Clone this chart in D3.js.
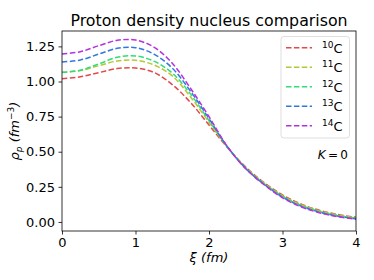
<!DOCTYPE html>
<html>
<head>
<meta charset="utf-8">
<script src="https://cdn.jsdelivr.net/npm/d3@7"></script>
<style>
  body { margin: 0; background: #fff; }
  svg { font-family: "DejaVu Sans", sans-serif; }
</style>
</head>
<body>
<div id="grafico"></div>
<script>
// radial coordinate (fm)
const xi = [0, 0.25, 0.5, 0.75, 1.0, 1.25, 1.5, 1.75, 2.0, 2.25, 2.5, 2.75, 3.0, 3.25, 3.5, 3.75, 4.0];

// proton densities
const rhoC10 = [1.020, 1.033, 1.063, 1.092, 1.096, 1.065, 0.978, 0.850, 0.690, 0.530, 0.390, 0.280, 0.192, 0.128, 0.083, 0.053, 0.033];
const rhoC11 = [1.065, 1.078, 1.112, 1.146, 1.151, 1.118, 1.040, 0.890, 0.710, 0.532, 0.386, 0.276, 0.187, 0.123, 0.079, 0.049, 0.029];
const rhoC12 = [1.065, 1.080, 1.125, 1.172, 1.182, 1.145, 1.060, 0.910, 0.722, 0.534, 0.383, 0.272, 0.182, 0.118, 0.075, 0.045, 0.026];
const rhoC13 = [1.139, 1.153, 1.195, 1.236, 1.241, 1.195, 1.095, 0.930, 0.735, 0.535, 0.380, 0.268, 0.177, 0.113, 0.070, 0.041, 0.022];
const rhoC14 = [1.196, 1.212, 1.255, 1.293, 1.295, 1.245, 1.130, 0.950, 0.750, 0.537, 0.378, 0.265, 0.172, 0.108, 0.066, 0.038, 0.019];

const massNumbers = ["10", "11", "12", "13", "14"];
const colors = ["#e04a4a", "#b4c832", "#32dc78", "#3278dc", "#b432dc"];
const xTicks = [0, 1, 2, 3, 4];
const yTicks = [0.00, 0.25, 0.50, 0.75, 1.00, 1.25];

const width = 374;
const height = 280;
const margin = { top: 31, right: 18, bottom: 49, left: 62 };

const series = [rhoC10, rhoC11, rhoC12, rhoC13, rhoC14];

const xScale = d3.scaleLinear()
    .domain([0, 4])
    .range([margin.left, width - margin.right]);

const yScale = d3.scaleLinear()
    .domain([-0.0645, 1.3595])
    .range([height - margin.bottom, margin.top]);

const svg = d3.select('#grafico')
    .append('svg')
    .attr('width', width)
    .attr('height', height);

// curves
const line = d3.line()
    .x((d, i) => xScale(xi[i]))
    .y(d => yScale(d))
    .curve(d3.curveCatmullRom.alpha(0.5));

svg.append('g')
    .selectAll('path')
    .data(series)
    .enter()
    .append('path')
    .attr('d', line)
    .attr('fill', 'none')
    .attr('stroke', (d, i) => colors[i])
    .attr('stroke-width', 1.5)
    .attr('stroke-dasharray', '5.5,2.4');

// axes
const xAxis = d3.axisBottom(xScale)
    .tickValues(xTicks)
    .tickFormat(d3.format('d'))
    .tickSizeOuter(0)
    .tickSize(3.5)
    .tickPadding(3.5);

const yAxis = d3.axisLeft(yScale)
    .tickValues(yTicks)
    .tickFormat(d3.format('.2f'))
    .tickSizeOuter(0)
    .tickSize(3.5)
    .tickPadding(3.5);

svg.append('g')
    .attr('transform', `translate(0, ${height - margin.bottom})`)
    .call(xAxis);

svg.append('g')
    .attr('transform', `translate(${margin.left}, 0)`)
    .call(yAxis);

svg.selectAll('.tick text')
    .attr('font-size', 13)
    .attr('font-family', '"DejaVu Sans", sans-serif')
    .attr('fill', '#000');
svg.selectAll('.tick line').attr('stroke', '#000').attr('stroke-width', 0.8);
svg.selectAll('.domain').remove();

// frame
svg.append('rect')
    .attr('x', margin.left)
    .attr('y', margin.top)
    .attr('width', width - margin.left - margin.right)
    .attr('height', height - margin.top - margin.bottom)
    .attr('fill', 'none')
    .attr('stroke', '#000')
    .attr('stroke-width', 0.8);

// title
svg.append('text')
    .attr('x', (margin.left + width - margin.right) / 2)
    .attr('y', 26)
    .attr('text-anchor', 'middle')
    .attr('font-size', 15.8)
    .text('Proton density nucleus comparison');

// x label
svg.append('text')
    .attr('x', (margin.left + width - margin.right) / 2)
    .attr('y', 262)
    .attr('text-anchor', 'middle')
    .attr('font-size', 13)
    .attr('font-style', 'italic')
    .text('ξ (fm)');

// y label
const yLabel = svg.append('text')
    .attr('transform', `translate(19, ${(margin.top + height - margin.bottom) / 2}) rotate(-90)`)
    .attr('text-anchor', 'middle')
    .attr('font-size', 13)
    .attr('font-style', 'italic');
yLabel.append('tspan').text('ρ');
yLabel.append('tspan').attr('font-size', 9).attr('dy', 3).text('p');
yLabel.append('tspan').attr('dy', -3).text(' (fm');
yLabel.append('tspan').attr('font-size', 9).attr('font-style', 'normal').attr('dy', -5).text('−3');
yLabel.append('tspan').attr('dy', 5).text(')');

// legend
const legend = svg.append('g');
legend.append('rect')
    .attr('x', 281)
    .attr('y', 36.5)
    .attr('width', 68.5)
    .attr('height', 101.5)
    .attr('rx', 3)
    .attr('fill', '#fff')
    .attr('fill-opacity', 0.8)
    .attr('stroke', '#d5d5d5')
    .attr('stroke-width', 0.8);

const entries = legend.selectAll('g.entry')
    .data(massNumbers)
    .enter()
    .append('g')
    .attr('class', 'entry')
    .attr('transform', (d, i) => `translate(0, ${47.7 + i * 19.5})`);

entries.append('line')
    .attr('x1', 286)
    .attr('x2', 312)
    .attr('y1', 0)
    .attr('y2', 0)
    .attr('stroke', (d, i) => colors[i])
    .attr('stroke-width', 1.5)
    .attr('stroke-dasharray', '5.5,2.4');

const labels = entries.append('text')
    .attr('x', 322)
    .attr('y', 5)
    .attr('font-size', 13);
labels.append('tspan').attr('font-size', 9).attr('dy', -5).text(d => d);
labels.append('tspan').attr('dy', 5).text('C');

// K = 0 annotation
svg.append('text')
    .attr('x', 348)
    .attr('y', 159)
    .attr('text-anchor', 'end')
    .attr('font-size', 12)
    .html('<tspan font-style="italic">K</tspan><tspan>\u2009=\u20090</tspan>');
</script>
</body>
</html>
